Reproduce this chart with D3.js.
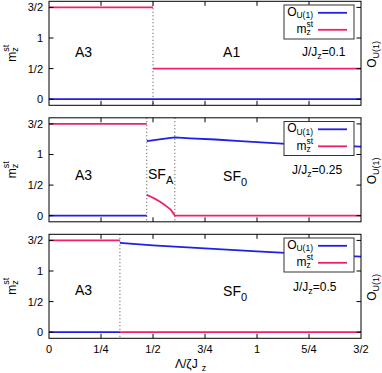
<!DOCTYPE html>
<html>
<head>
<meta charset="utf-8">
<script src="https://cdn.jsdelivr.net/npm/d3@7"></script>
<style>
  body { margin: 0; background: #fff; }
  svg { display: block; font-family: "Liberation Sans", Arial, sans-serif; }
</style>
</head>
<body>
<svg id="chart" width="382" height="373"></svg>
<script>
// ticks
var lambdaTicks = [0, 0.25, 0.5, 0.75, 1, 1.25, 1.5],
    lambdaTickLabels = ["0", "1/4", "1/2", "3/4", "1", "5/4", "3/2"],
    mTicks = [0, 0.5, 1, 1.5],
    mTickLabels = ["0", "1/2", "1", "3/2"],
    ratios = ["0.1", "0.25", "0.5"];

// J/Jz = 0.1  (segments of [lambda, value])
var mz01 = [[[0, 1.5], [0.5, 1.5]], [[0.5, 0.5], [1.5, 0.5]]];
var ou01 = [[[0, 0], [1.5, 0]]];
var trans01 = [0.5];
var phases01 = [["A3", ""], ["A1", ""]];

// J/Jz = 0.25
var mz025 = [[[0, 1.5], [0.47, 1.5]],
    [[0.47, 0.34], [0.49, 0.31], [0.51, 0.275], [0.53, 0.235], [0.55, 0.19],
     [0.57, 0.14], [0.585, 0.10], [0.595, 0.05], [0.605, 0], [1.5, 0]]];
var ou025 = [[[0, 0], [0.47, 0]],
    [[0.47, 1.22], [0.54, 1.25], [0.605, 1.28], [0.68, 1.265], [0.8, 1.245],
     [0.92, 1.22], [1.04, 1.195], [1.16, 1.17], [1.28, 1.155], [1.4, 1.14], [1.5, 1.13]]];
var trans025 = [0.47, 0.605];
var phases025 = [["A3", ""], ["SF", "A"], ["SF", "0"]];

// J/Jz = 0.5
var mz05 = [[[0, 1.5], [0.341, 1.5]], [[0.341, 0], [1.5, 0]]];
var ou05 = [[[0, 0], [0.341, 0]],
    [[0.341, 1.46], [0.5, 1.42], [0.75, 1.37], [1.0, 1.32], [1.25, 1.275], [1.5, 1.235]]];
var trans05 = [0.341];
var phases05 = [["A3", ""], ["SF", "0"]];

var panels = [
    {ratio: ratios[0], mz: mz01, ou: ou01, trans: trans01, phases: phases01},
    {ratio: ratios[1], mz: mz025, ou: ou025, trans: trans025, phases: phases025},
    {ratio: ratios[2], mz: mz05, ou: ou05, trans: trans05, phases: phases05}
];

// where the phase names sit (data coords), and the J/Jz label
var phaseAt = [
    [[0.125, 0.69], [0.837, 0.69]],
    [[0.125, 0.59], [0.476, 0.60], [0.837, 0.57]],
    [[0.125, 0.60], [0.837, 0.59]]
];
var ratioAt = [[1.216, 0.70], [1.168, 0.68], [1.173, 0.67]];

var blue = "#1f1fe6", pink = "#f0206c";
var left = 49, right = 361, ph = 104,
    tops = [1.3, 117.8, 234.3];

var svg = d3.select("#chart");
var x = d3.scaleLinear().domain([0, 1.5]).range([left, right]);

var line = d3.line()
    .x(function(d) { return x(d[0]); });

panels.forEach(function(p, i) {
    var top = tops[i];
    var y = d3.scaleLinear().domain([-0.1, 1.6]).range([top + ph, top]);
    line.y(function(d) { return y(d[1]); });
    var g = svg.append("g");

    // transitions
    g.selectAll(".tr").data(p.trans).enter().append("line")
        .attr("x1", function(d) { return x(d); })
        .attr("x2", function(d) { return x(d); })
        .attr("y1", top).attr("y2", top + ph)
        .attr("stroke", "#444").attr("stroke-width", 1)
        .attr("stroke-dasharray", "1,2.5");

    // series
    g.selectAll(".ou").data(p.ou).enter().append("path")
        .attr("d", line).attr("fill", "none")
        .attr("stroke", blue).attr("stroke-width", 1.8);
    g.selectAll(".mz").data(p.mz).enter().append("path")
        .attr("d", line).attr("fill", "none")
        .attr("stroke", pink).attr("stroke-width", 1.8);

    // frame + ticks (inward, mirrored)
    var ax = g.append("g");
    ax.append("rect")
        .attr("x", left).attr("y", top).attr("width", right - left).attr("height", ph)
        .attr("fill", "none").attr("stroke", "#000").attr("stroke-width", 1);
    var yt = ax.selectAll(".yt").data(mTicks).enter();
    yt.append("line").attr("x1", left).attr("x2", left + 4.5)
        .attr("y1", function(d) { return y(d); }).attr("y2", function(d) { return y(d); })
        .attr("stroke", "#000");
    yt.append("line").attr("x1", right).attr("x2", right - 4.5)
        .attr("y1", function(d) { return y(d); }).attr("y2", function(d) { return y(d); })
        .attr("stroke", "#000");
    ax.selectAll(".yl").data(mTicks).enter().append("text")
        .attr("x", 43).attr("y", function(d) { return y(d); })
        .attr("dy", "0.36em").attr("text-anchor", "end")
        .attr("font-size", 11)
        .text(function(d, k) { return mTickLabels[k]; });
    var xt = ax.selectAll(".xt").data(lambdaTicks.slice(1, -1)).enter();
    xt.append("line").attr("y1", top + ph).attr("y2", top + ph - 4.5)
        .attr("x1", function(d) { return x(d); }).attr("x2", function(d) { return x(d); })
        .attr("stroke", "#000");
    xt.append("line").attr("y1", top).attr("y2", top + 4.5)
        .attr("x1", function(d) { return x(d); }).attr("x2", function(d) { return x(d); })
        .attr("stroke", "#000");

    // phase labels
    p.phases.forEach(function(ph_, k) {
        var t = g.append("text")
            .attr("x", x(phaseAt[i][k][0])).attr("y", y(phaseAt[i][k][1]))
            .attr("font-size", 14);
        t.append("tspan").text(ph_[0]);
        if (ph_[1]) t.append("tspan").attr("dy", 5).attr("font-size", 11).text(ph_[1]);
    });

    // J/Jz
    var r = g.append("text")
        .attr("x", x(ratioAt[i][0])).attr("y", y(ratioAt[i][1]))
        .attr("font-size", 12);
    r.append("tspan").text("J/J");
    r.append("tspan").attr("dy", 3).attr("font-size", 9).text("z");
    r.append("tspan").attr("dy", -3).text("=" + p.ratio);

    // legend
    var lg = g.append("g");
    lg.append("rect")
        .attr("x", 284).attr("y", top + 3.7).attr("width", 70).attr("height", 34)
        .attr("fill", "#fff").attr("stroke", "#333").attr("stroke-width", 1);
    var l1 = lg.append("text").attr("x", 313).attr("y", top + 14.5)
        .attr("text-anchor", "end").attr("font-size", 12);
    l1.append("tspan").text("O");
    l1.append("tspan").attr("dy", 2.5).attr("font-size", 8.5).text("U(1)");
    lg.append("line").attr("x1", 318).attr("x2", 347)
        .attr("y1", top + 11.5).attr("y2", top + 11.5)
        .attr("stroke", blue).attr("stroke-width", 1.8);
    var l2 = lg.append("text").attr("x", 313).attr("y", top + 32)
        .attr("text-anchor", "end").attr("font-size", 12);
    l2.append("tspan").text("m");
    l2.append("tspan").attr("dy", 2).attr("font-size", 8.5).text("z");
    l2.append("tspan").attr("dx", -4.3).attr("dy", -8).attr("font-size", 8.5).text("st");
    lg.append("line").attr("x1", 318).attr("x2", 347)
        .attr("y1", top + 28.5).attr("y2", top + 28.5)
        .attr("stroke", pink).attr("stroke-width", 1.8);

    // y labels (rotated)
    var ml = g.append("text")
        .attr("transform", "translate(15.5," + (top + 52) + ") rotate(-90)")
        .attr("text-anchor", "middle").attr("font-size", 12);
    ml.append("tspan").text("m");
    ml.append("tspan").attr("dy", 2.5).attr("font-size", 9).text("z");
    ml.append("tspan").attr("dx", -4.5).attr("dy", -9).attr("font-size", 9).text("st");

    var ol = g.append("text")
        .attr("transform", "translate(376," + (top + 53) + ") rotate(-90)")
        .attr("text-anchor", "middle").attr("font-size", 12);
    ol.append("tspan").text("O");
    ol.append("tspan").attr("dy", 3).attr("font-size", 9).text("U(1)");

    // x tick labels on the bottom panel only
    if (i === panels.length - 1) {
        g.selectAll(".xl").data(lambdaTicks).enter().append("text")
            .attr("x", function(d) { return x(d); }).attr("y", top + ph + 15)
            .attr("text-anchor", "middle").attr("font-size", 11)
            .text(function(d, k) { return lambdaTickLabels[k]; });
        var xl = g.append("text").attr("x", 175).attr("y", 367.5).attr("font-size", 12);
        xl.append("tspan").text("Λ/ζJ");
        xl.append("tspan").attr("dx", 4).attr("dy", 3).attr("font-size", 9).text("z");
    }
});
</script>
</body>
</html>
